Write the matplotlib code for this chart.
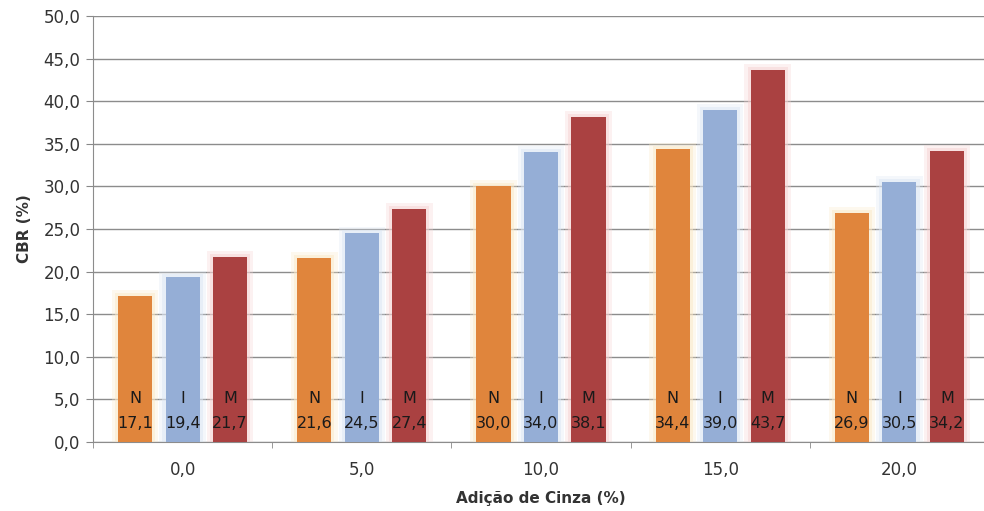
import numpy as np
import matplotlib.pyplot as plt
from matplotlib.ticker import FixedLocator, FuncFormatter

# Dados
adicao = ["0,0", "5,0", "10,0", "15,0", "20,0"]
series_nomes = ["N", "I", "M"]
cbr_n = [17.1, 21.6, 30.0, 34.4, 26.9]
cbr_i = [19.4, 24.5, 34.0, 39.0, 30.5]
cbr_m = [21.7, 27.4, 38.1, 43.7, 34.2]
cores = ["#E0853C", "#95AED6", "#AA4141"]
brilho = ["#FBE9C8", "#DCE6F4", "#F6D2D2"]


def main():
    plt.rcParams['font.family'] = ['DejaVu Sans']
    fig = plt.figure(figsize=(9.84, 5.11), dpi=100)
    ax = fig.add_axes([93 / 984, 69 / 511, 896 / 984, 426 / 511])

    x = np.arange(len(adicao))
    largura = 0.19
    passo = 0.265
    valores = [cbr_n, cbr_i, cbr_m]

    for k, (vals, cor, glow) in enumerate(zip(valores, cores, brilho)):
        pos = x + (k - 1) * passo
        # efeito de brilho em volta das barras (duas camadas suaves)
        ax.bar(pos, np.array(vals) + 0.7, width=largura + 0.07, color=glow,
               alpha=0.3, zorder=2)
        ax.bar(pos, np.array(vals) + 0.35, width=largura + 0.035, color=glow,
               alpha=0.5, zorder=2)
        ax.bar(pos, vals, width=largura, color=cor, zorder=3)
        for p, v in zip(pos, vals):
            ax.text(p, 5.1, series_nomes[k], ha='center', va='center',
                    fontsize=11.5, color='#1a1a1a', zorder=4)
            ax.text(p, 2.2, f"{v:.1f}".replace('.', ','), ha='center',
                    va='center', fontsize=11.5, color='#1a1a1a', zorder=4)

    ax.set_xlim(-0.5, len(adicao) - 0.5)
    ax.set_ylim(0, 50)
    ax.set_yticks(np.arange(0, 51, 5))
    ax.yaxis.set_major_formatter(FuncFormatter(lambda v, p: f"{v:.1f}".replace('.', ',')))
    ax.set_xticks(x)
    ax.set_xticklabels(adicao)
    ax.xaxis.set_minor_locator(FixedLocator(np.arange(-0.5, len(adicao), 1.0)))
    ax.tick_params(axis='x', which='major', length=0, pad=14, labelsize=12, labelcolor='#333333')
    ax.tick_params(axis='x', which='minor', length=4, color='#888888')
    ax.tick_params(axis='y', length=5, color='#888888', labelsize=12, labelcolor='#333333', pad=4)

    ax.grid(axis='y', color='#8c8c8c', linewidth=1, zorder=1)
    ax.set_axisbelow(True)
    for lado in ['top', 'right']:
        ax.spines[lado].set_visible(False)
    ax.spines['left'].set_color('#8c8c8c')
    ax.spines['bottom'].set_color('#8c8c8c')

    ax.set_ylabel("CBR (%)", fontsize=11, fontweight='bold', color='#333333', labelpad=8)
    ax.set_xlabel("Adição de Cinza (%)", fontsize=11, fontweight='bold', color='#333333', labelpad=8)

    fig.savefig("out.png", dpi=100)


if __name__ == "__main__":
    main()
